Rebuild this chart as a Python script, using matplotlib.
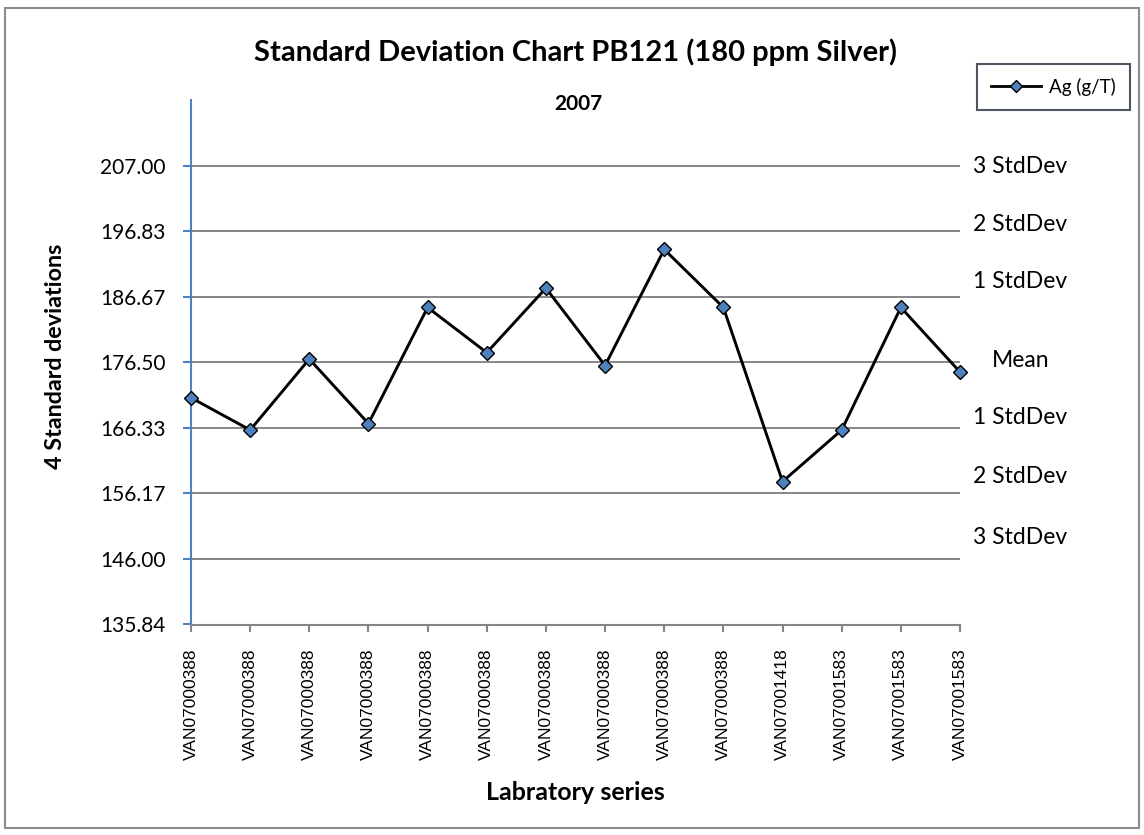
import matplotlib
matplotlib.use("Agg")
import matplotlib.pyplot as plt
import matplotlib.transforms as mtransforms
from matplotlib.patches import Rectangle
from matplotlib.lines import Line2D

# ---- data ----
categories = ["VAN07000388"] * 10 + ["VAN07001418"] + ["VAN07001583"] * 3
ag_values = [171.0, 166.0, 177.0, 167.0, 185.0, 178.0, 188.0, 176.0, 194.0,
             185.0, 158.0, 166.0, 185.0, 175.0]
y_ticks = [135.84, 146.00, 156.17, 166.33, 176.50, 186.67, 196.83, 207.00]
y_tick_labels = ["135.84", "146.00", "156.17", "166.33", "176.50", "186.67",
                 "196.83", "207.00"]
y_max = 217.17
band_labels = ["3 StdDev", "2 StdDev", "1 StdDev", "Mean",
               "1 StdDev", "2 StdDev", "3 StdDev"]
band_label_y = [206.8, 197.9, 189.05, 176.7, 168.0, 158.8, 149.4]

title = "Standard Deviation Chart PB121 (180 ppm Silver)"
subtitle = "2007"
series_name = "Ag (g/T)"
xlabel = "Labratory series"
ylabel = "4 Standard deviations"

BLUE = "#4F81BD"
GRID = "#868686"
FONT = "Lato"

fig = plt.figure(figsize=(11.44, 8.35), dpi=100)
W, H = 1144, 835

def fx(px):
    return px / W

def fy(py):
    return 1 - py / H

# outer chart border
fig.patches.append(Rectangle((fx(5), fy(828)), fx(1139) - fx(5), fy(8) - fy(828),
                             transform=fig.transFigure, fill=False,
                             edgecolor="#8C8C8C", linewidth=1.5))

ax = fig.add_axes([fx(191), fy(624.5), fx(960) - fx(191), fy(100) - fy(624.5)])
x = list(range(len(ag_values)))
ax.plot(x, ag_values, color="black", linewidth=2.1, marker="D", markersize=6.8,
        markerfacecolor=BLUE, markeredgecolor="black", markeredgewidth=1.0,
        zorder=5, clip_on=False)

ax.set_xlim(0, len(ag_values) - 1)
ax.set_ylim(y_ticks[0], y_max)

for yv in y_ticks[1:]:
    ax.axhline(yv, color=GRID, linewidth=1.4, zorder=1)

ax.set_yticks(y_ticks)
ax.set_yticklabels(y_tick_labels, fontfamily=FONT, fontsize=15)
ax.set_xticks(x)
ax.set_xticklabels(categories, rotation=90, fontfamily="Liberation Sans",
                   fontsize=12.5, va="top")

for s in ["top", "right"]:
    ax.spines[s].set_visible(False)
ax.spines["left"].set_color(BLUE)
ax.spines["left"].set_linewidth(1.5)
ax.spines["bottom"].set_color(GRID)
ax.spines["bottom"].set_linewidth(1.5)
ax.tick_params(axis="y", colors=BLUE, length=5.5, width=1.5, labelcolor="black", pad=13)
ax.tick_params(axis="x", colors=GRID, length=5, width=1.5, labelcolor="black", pad=12)

blend = mtransforms.blended_transform_factory(fig.transFigure, ax.transData)
for lab, yv in zip(band_labels, band_label_y):
    xpos = fx(992) if lab == "Mean" else fx(973)
    ax.text(xpos, yv, lab, transform=blend, ha="left", va="center",
            fontfamily=FONT, fontsize=16.5)

fig.text(fx(576), fy(52), title, ha="center", va="center", fontfamily=FONT,
         fontweight="bold", fontsize=21)
fig.text(fx(578), fy(104), subtitle, ha="center", va="center", fontfamily=FONT,
         fontweight="bold", fontsize=15)
fig.text(fx(575), fy(793), xlabel, ha="center", va="center", fontfamily=FONT,
         fontweight="bold", fontsize=18)
fig.text(fx(56), fy(356), ylabel, ha="center", va="center", rotation=90,
         fontfamily=FONT, fontweight="bold", fontsize=16.8)

handle = Line2D([], [], color="black", linewidth=2.0, marker="D", markersize=6,
                markerfacecolor=BLUE, markeredgecolor="black")
leg = fig.legend([handle], [series_name], loc="center",
                 bbox_to_anchor=(fx(1053), fy(87)), prop={"family": FONT, "size": 13.5},
                 frameon=True, fancybox=False, handlelength=2.7, borderpad=0.75,
                 handletextpad=0.4)
leg.get_frame().set_edgecolor("#1F2A3A")
leg.get_frame().set_linewidth(1.5)

fig.savefig("out.png", dpi=100)
